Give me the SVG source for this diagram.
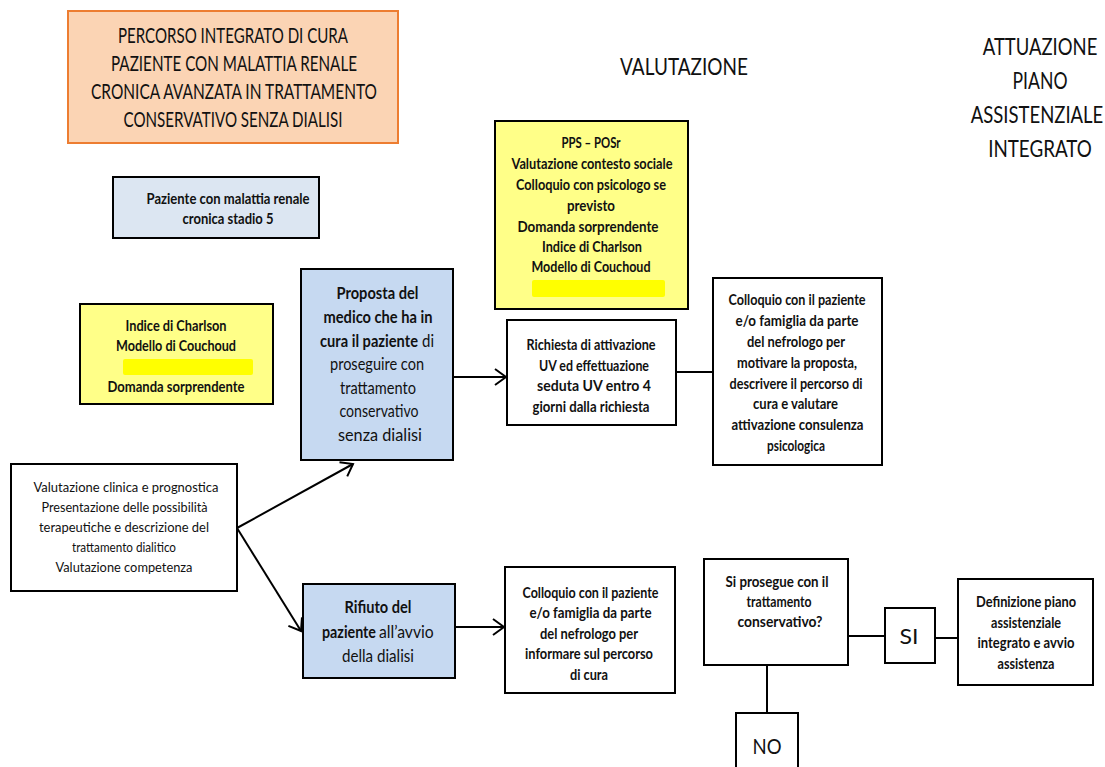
<svg xmlns="http://www.w3.org/2000/svg" width="1105" height="767" viewBox="0 0 1105 767">
<defs>
<marker id="arr" markerUnits="userSpaceOnUse" markerWidth="16" markerHeight="22" viewBox="-2 -11 16 22" refX="11" refY="0" orient="auto">
<path d="M0,-8 L11,0 L0,8" fill="none" stroke="#000" stroke-width="2"/>
</marker>
<style>
text{font-family:Lato,"Liberation Sans",sans-serif;fill:#111;text-anchor:middle}
.b{font-weight:700}
.s{text-anchor:start}
.box{stroke:#000;stroke-width:2}
.white{fill:#fff}
.blue{fill:#C6D9F1}
.pale{fill:#DCE6F2}
.yel{fill:#FFFF88}
.hl{fill:#FFFF00}
.f16{font-size:16px}
.f17{font-size:17px}
.f14{font-size:14px}
.h{font-size:24px}
.conn line{stroke:#000;stroke-width:2;fill:none}
</style>
</defs>
<rect width="1105" height="767" fill="#fff"/>

<g id="title">
<rect x="68" y="11" width="330" height="132" fill="#FBD4B4" stroke="#ED7D31" stroke-width="2"/>
<text x="233" y="43" font-size="21" textLength="230" lengthAdjust="spacingAndGlyphs">PERCORSO INTEGRATO DI CURA</text>
<text x="234" y="71" font-size="21" textLength="246" lengthAdjust="spacingAndGlyphs">PAZIENTE CON MALATTIA RENALE</text>
<text x="234" y="99" font-size="21" textLength="286" lengthAdjust="spacingAndGlyphs">CRONICA AVANZATA IN TRATTAMENTO</text>
<text x="233" y="127" font-size="21" textLength="219" lengthAdjust="spacingAndGlyphs">CONSERVATIVO SENZA DIALISI</text>
</g>

<g id="heading-valutazione">
<text class="h" transform="translate(684 75) scale(0.78 1)" x="0" y="0" textLength="164" lengthAdjust="spacingAndGlyphs">VALUTAZIONE</text>
</g>

<g id="heading-attuazione">
<text class="h" transform="translate(1040 54.5) scale(0.78 1)" x="0" y="0" textLength="147" lengthAdjust="spacingAndGlyphs">ATTUAZIONE</text>
<text class="h" transform="translate(1040 88.5) scale(0.78 1)" x="0" y="0" textLength="70.5" lengthAdjust="spacingAndGlyphs">PIANO</text>
<text class="h" transform="translate(1037 122.5) scale(0.78 1)" x="0" y="0" textLength="170" lengthAdjust="spacingAndGlyphs">ASSISTENZIALE</text>
<text class="h" transform="translate(1040 156.5) scale(0.78 1)" x="0" y="0" textLength="133" lengthAdjust="spacingAndGlyphs">INTEGRATO</text>
</g>

<g id="paziente-stadio5">
<rect class="box pale" x="113" y="177" width="206" height="61"/>
<text class="b f16" x="228" y="204" textLength="163" lengthAdjust="spacingAndGlyphs">Paziente con malattia renale</text>
<text class="b f16" x="228" y="224" textLength="91" lengthAdjust="spacingAndGlyphs">cronica stadio 5</text>
</g>

<g id="indici-sx">
<rect class="box yel" x="80" y="304" width="193" height="100"/>
<rect class="hl" x="123" y="359" width="130" height="16" rx="2"/>
<text class="b f16" x="176" y="331" textLength="101" lengthAdjust="spacingAndGlyphs">Indice di Charlson</text>
<text class="b f16" x="176" y="351" textLength="120" lengthAdjust="spacingAndGlyphs">Modello di Couchoud</text>
<text class="b f16" x="176" y="392" textLength="137" lengthAdjust="spacingAndGlyphs">Domanda sorprendente</text>
</g>

<g id="indici-valutazione">
<rect class="box yel" x="495" y="121" width="193" height="188"/>
<text class="b f16" x="591" y="148" textLength="59" lengthAdjust="spacingAndGlyphs">PPS – POSr</text>
<text class="b f16" x="592" y="169" textLength="161" lengthAdjust="spacingAndGlyphs">Valutazione contesto sociale</text>
<text class="b f16" x="591" y="190" textLength="150" lengthAdjust="spacingAndGlyphs">Colloquio con psicologo se</text>
<text class="b f16" x="591" y="211" textLength="48" lengthAdjust="spacingAndGlyphs">previsto</text>
<text class="b f16" x="588" y="232" textLength="141" lengthAdjust="spacingAndGlyphs">Domanda sorprendente</text>
<text class="b f16" x="592" y="252" textLength="100" lengthAdjust="spacingAndGlyphs">Indice di Charlson</text>
<text class="b f16" x="591" y="272" textLength="119" lengthAdjust="spacingAndGlyphs">Modello di Couchoud</text>
<rect class="hl" x="532" y="280" width="133" height="17" rx="2"/>
</g>

<g id="valutazione-clinica">
<rect class="box white" x="11" y="464" width="226" height="127"/>
<text class="f14" x="126" y="492" textLength="185" lengthAdjust="spacingAndGlyphs">Valutazione clinica e  prognostica</text>
<text class="f14" x="124.5" y="512" textLength="166" lengthAdjust="spacingAndGlyphs">Presentazione delle possibilità</text>
<text class="f14" x="124" y="532" textLength="170" lengthAdjust="spacingAndGlyphs">terapeutiche e descrizione del</text>
<text class="f14" x="124" y="552" textLength="104" lengthAdjust="spacingAndGlyphs">trattamento dialitico</text>
<text class="f14" x="124" y="572" textLength="137" lengthAdjust="spacingAndGlyphs">Valutazione competenza</text>
</g>

<g id="proposta">
<rect class="box blue" x="301" y="269" width="152" height="191"/>
<text class="b f17" x="377.5" y="299" textLength="82" lengthAdjust="spacingAndGlyphs">Proposta del</text>
<text class="b f17" x="378" y="323" textLength="109" lengthAdjust="spacingAndGlyphs">medico che ha in</text>
<text class="b f17 s" transform="translate(320 347) scale(0.8 1)" x="0" y="0" textLength="122.5" lengthAdjust="spacingAndGlyphs">cura il paziente</text>
<text class="f17 s" transform="translate(422 347) scale(0.8 1)" x="0" y="0" textLength="15" lengthAdjust="spacingAndGlyphs">di</text>
<text class="f17" x="377" y="370" textLength="94" lengthAdjust="spacingAndGlyphs">proseguire con</text>
<text class="f17" x="378" y="394" textLength="76" lengthAdjust="spacingAndGlyphs">trattamento</text>
<text class="f17" x="379" y="417" textLength="79" lengthAdjust="spacingAndGlyphs">conservativo</text>
<text class="f17" x="380" y="441" textLength="84" lengthAdjust="spacingAndGlyphs">senza dialisi</text>
</g>

<g id="richiesta-uv">
<rect class="box white" x="507" y="320" width="169" height="105"/>
<text class="b f16" x="591" y="350" textLength="129" lengthAdjust="spacingAndGlyphs">Richiesta di attivazione</text>
<text class="b f16" x="594" y="370.5" textLength="110" lengthAdjust="spacingAndGlyphs">UV ed effettuazione</text>
<text class="b f16" x="594" y="391" textLength="114" lengthAdjust="spacingAndGlyphs">seduta UV entro  4</text>
<text class="b f16" x="591" y="411.5" textLength="117" lengthAdjust="spacingAndGlyphs">giorni dalla richiesta</text>
</g>

<g id="colloquio-proposta">
<rect class="box white" x="713" y="278" width="169" height="187"/>
<text class="b f16" x="797" y="305" textLength="137" lengthAdjust="spacingAndGlyphs">Colloquio con il paziente</text>
<text class="b f16" x="797" y="326" textLength="123" lengthAdjust="spacingAndGlyphs">e/o famiglia da parte</text>
<text class="b f16" x="796" y="347" textLength="98" lengthAdjust="spacingAndGlyphs">del nefrologo per</text>
<text class="b f16" x="797" y="368" textLength="120" lengthAdjust="spacingAndGlyphs">motivare la proposta,</text>
<text class="b f16" x="796" y="388.5" textLength="133" lengthAdjust="spacingAndGlyphs">descrivere il percorso di</text>
<text class="b f16" x="795.5" y="409" textLength="85" lengthAdjust="spacingAndGlyphs">cura e valutare</text>
<text class="b f16" x="797.5" y="430" textLength="132" lengthAdjust="spacingAndGlyphs">attivazione consulenza</text>
<text class="b f16" x="796" y="450.5" textLength="58" lengthAdjust="spacingAndGlyphs">psicologica</text>
</g>

<g id="rifiuto">
<rect class="box blue" x="303" y="584" width="152" height="94"/>
<text class="b f17" x="378" y="613" textLength="67" lengthAdjust="spacingAndGlyphs">Rifiuto del</text>
<text class="b f17 s" transform="translate(322 638) scale(0.8 1)" x="0" y="0" textLength="67.5" lengthAdjust="spacingAndGlyphs">paziente</text>
<text class="f17 s" transform="translate(379 638) scale(0.8 1)" x="0" y="0" textLength="68.5" lengthAdjust="spacingAndGlyphs">all’avvio</text>
<text class="f17" x="378" y="662" textLength="72" lengthAdjust="spacingAndGlyphs">della dialisi</text>
</g>

<g id="colloquio-informare">
<rect class="box white" x="505" y="567" width="170" height="126"/>
<text class="b f16" x="590.5" y="597.5" textLength="136" lengthAdjust="spacingAndGlyphs">Colloquio con il paziente</text>
<text class="b f16" x="590.5" y="618" textLength="122" lengthAdjust="spacingAndGlyphs">e/o famiglia da parte</text>
<text class="b f16" x="589" y="638.5" textLength="98" lengthAdjust="spacingAndGlyphs">del nefrologo per</text>
<text class="b f16" x="589" y="659" textLength="128" lengthAdjust="spacingAndGlyphs">informare sul percorso</text>
<text class="b f16" x="589" y="679.5" textLength="38" lengthAdjust="spacingAndGlyphs">di cura</text>
</g>

<g id="si-prosegue">
<rect class="box white" x="704" y="559" width="144" height="106"/>
<text class="b f16" x="777" y="587" textLength="103" lengthAdjust="spacingAndGlyphs">Si prosegue con il</text>
<text class="b f16" x="779" y="607" textLength="65" lengthAdjust="spacingAndGlyphs">trattamento</text>
<text class="b f16" x="780" y="627" textLength="85" lengthAdjust="spacingAndGlyphs">conservativo?</text>
</g>

<g id="si">
<rect class="box white" x="885" y="608" width="50" height="55"/>
<text x="909" y="644" font-size="22" textLength="19" lengthAdjust="spacingAndGlyphs">SI</text>
</g>

<g id="definizione">
<rect class="box white" x="958" y="579" width="135" height="106"/>
<text class="b f16" x="1026" y="607" textLength="100" lengthAdjust="spacingAndGlyphs">Definizione piano</text>
<text class="b f16" x="1026" y="627.5" textLength="70" lengthAdjust="spacingAndGlyphs">assistenziale</text>
<text class="b f16" x="1026" y="648" textLength="97" lengthAdjust="spacingAndGlyphs">integrato e avvio</text>
<text class="b f16" x="1026" y="668.5" textLength="57" lengthAdjust="spacingAndGlyphs">assistenza</text>
</g>

<g id="no">
<rect class="box white" x="736" y="713" width="62" height="70"/>
<text x="767" y="754" font-size="22" textLength="29" lengthAdjust="spacingAndGlyphs">NO</text>
</g>

<g id="connectors" class="conn">
<line x1="453" y1="377" x2="506" y2="377" marker-end="url(#arr)"/>
<line x1="676" y1="372" x2="713" y2="372"/>
<line x1="237" y1="528" x2="353" y2="464" marker-end="url(#arr)"/>
<line x1="237" y1="528" x2="301" y2="631" marker-end="url(#arr)"/>
<line x1="455" y1="627" x2="504" y2="627" marker-end="url(#arr)"/>
<line x1="848" y1="636" x2="885" y2="636"/>
<line x1="935" y1="638" x2="958" y2="638"/>
<line x1="767" y1="665" x2="767" y2="713"/>
</g>
</svg>
